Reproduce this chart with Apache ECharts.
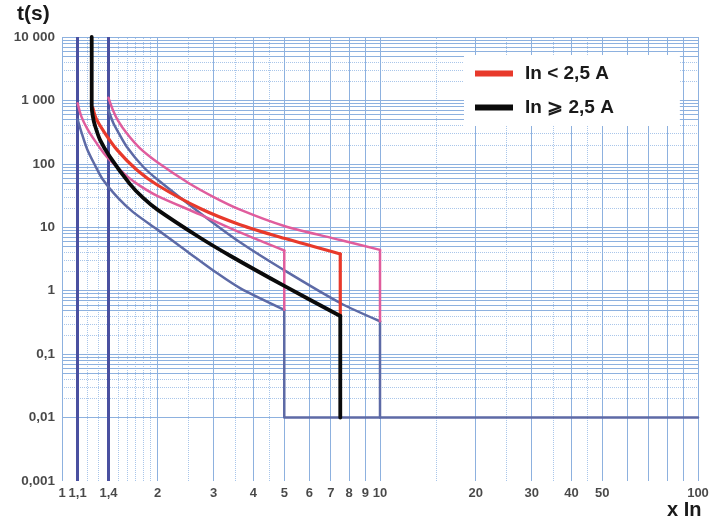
<!DOCTYPE html>
<html><head><meta charset="utf-8">
<script src="https://cdn.jsdelivr.net/npm/echarts@6/dist/echarts.min.js"></script>
<style>html,body{margin:0;padding:0;background:#fff}#c{width:712px;height:523px}</style>
</head><body><div id="c"></div>
<script>
// ---- tick labels ----
const xTickValues = [1, 1.12, 1.4, 2, 3, 4, 5, 6, 7, 8, 9, 10, 20, 30, 40, 50, 100];
const xTickLabels = ['1', '1,1', '1,4', '2', '3', '4', '5', '6', '7', '8', '9', '10', '20', '30', '40', '50', '100'];
const yTickValues = [0.001, 0.01, 0.1, 1, 10, 100, 1000, 10000];
const yTickLabels = ['0,001', '0,01', '0,1', '1', '10', '100', '1 000', '10 000'];

// ---- grid lines ----
const xGridSolid = [1, 2, 3, 4, 5, 6, 7, 8, 9, 10, 20, 30, 40, 50, 60, 70, 80, 90, 100];
const xGridDotted = [1.2, 1.3, 1.5, 1.6, 1.7, 1.8, 1.9, 2.5, 3.5, 4.5, 15, 25, 35, 45];
const yDecades = [0.001, 0.01, 0.1, 1, 10, 100, 1000];
const yMultSolid = [1, 5, 6, 7, 8, 9];
const yMultDotted = [2, 3, 4];
const yTop = 10000;

// ---- tripping band verticals ----
const bandVerticalX = [1.12, 1.4];

// ---- curves [x In, t(s)] ----
const lowBlue = [[1.12,500],[1.15,320],[1.2,170],[1.27,95],[1.346,56],[1.5,29],[1.67,17.5],[2,9.1],[2.47,4.2],[3.07,1.9],[3.63,1.1],[5,0.5]];
const lowBlueTail = [[5,0.5],[5,0.01],[100,0.01]];
const lowPink = [[1.12,900],[1.15,560],[1.2,360],[1.27,230],[1.35,150],[1.42,112],[1.6,64],[1.76,45],[2,31],[2.71,16],[3.63,8.3],[5,4.3]];
const lowPinkDrop = [[5,4.3],[5,0.5]];
const upBlue = [[1.4,700],[1.45,440],[1.5,320],[1.6,185],[1.8,90],[2,56],[2.71,17],[3.63,5.8],[5,2.1],[7.5,0.64],[10,0.33]];
const upBlueTail = [[10,0.33],[10,0.01]];
const upPink = [[1.4,1100],[1.45,680],[1.5,480],[1.6,300],[1.76,175],[2,105],[2.5,50],[3,30],[3.63,19],[5,10.5],[7.5,6.3],[10,4.4]];
const upPinkDrop = [[10,4.4],[10,0.33]];
const redCurve = [[1.25,760],[1.28,520],[1.35,330],[1.49,166],[1.72,80],[2,46],[2.71,20],[3.63,11],[5,6.7],[7.5,3.8]];
const redDrop = [[7.5,3.8],[7.5,0.4]];
const blackCurve = [[1.24,10000],[1.24,800],[1.25,560],[1.27,400],[1.317,239],[1.415,129],[1.636,48],[1.8,29],[2,18.8],[2.71,6.9],[3.38,3.56],[5,1.19],[7.5,0.4]];
const blackTail = [[7.5,0.4],[7.5,0.01]];

const legendRed = 'In < 2,5 A';
const legendBlack = 'In \u2A7E 2,5 A';

const COL = {blue:'#5d6aa6', band:'#4a50a0', pink:'#e05d9d', red:'#e8392b', black:'#0a0a0a',
  gridSolid:'#8db1df', gridDot:'#a9c6ea', text:'#1a1a1a'};
const FONT = 'Liberation Sans';

const ySolid = [], yDotted = [];
yDecades.forEach(d => {
  yMultSolid.forEach(m => ySolid.push(+(d*m).toPrecision(6)));
  yMultDotted.forEach(m => yDotted.push(+(d*m).toPrecision(6)));
});
ySolid.push(yTop);

function ml(vals, axis) { return vals.map(v => ({[axis]: v})); }

function curve(name, data, color, width, smooth) {
  return {type:'line', name, data, symbol:'none', smooth: smooth ? 0.3 : false,
    lineStyle:{color, width, cap:'round', join:'round'}, itemStyle:{color}, z:5, clip:true, animation:false, silent:true};
}

const chart = echarts.init(document.getElementById('c'), null, {renderer:'canvas'});
chart.setOption({
  animation:false,
  backgroundColor:'#fff',
  grid:{left:62, top:37, width:636, height:444},
  xAxis:{type:'log', logBase:10, min:1, max:100, axisLine:{show:false}, axisTick:{show:false},
    axisLabel:{show:false}, splitLine:{show:false}, minorSplitLine:{show:false}},
  yAxis:{type:'log', logBase:10, min:0.001, max:10000, axisLine:{show:false}, axisTick:{show:false},
    axisLabel:{show:false}, splitLine:{show:false}, minorSplitLine:{show:false}},
  legend:{
    z:20, zlevel:0,
    data:[{name:legendRed, icon:'rect'}, {name:legendBlack, icon:'rect'}],
    orient:'vertical', left:464, top:55, itemWidth:38, itemHeight:6, itemGap:15,
    padding:[9, 66, 9, 11], backgroundColor:'#ffffff', borderWidth:0, selectedMode:false,
    itemStyle:{borderWidth:0}, lineStyle:{width:0},
    textStyle:{fontFamily:FONT, fontWeight:'bold', fontSize:19, color:COL.text, padding:[0,0,0,7]}
  },
  graphic:[
    {type:'text', left:17, top:4, style:{text:'t(s)', font:'bold 21px "Liberation Sans"', fill:COL.text}},
    {type:'text', left:667, top:500, style:{text:'x In', font:'bold 20px "Liberation Sans"', fill:COL.text}}
  ],
  series:[
    {type:'line', data:[], silent:true, z:1,
      markLine:{silent:true, symbol:['none','none'], label:{show:false}, animation:false,
        lineStyle:{type:'dotted', color:COL.gridDot, width:1},
        data: ml(xGridDotted,'xAxis').concat(ml(yDotted,'yAxis'))}},
    {type:'line', data:[], silent:true, z:2,
      markLine:{silent:true, symbol:['none','none'], label:{show:false}, animation:false,
        lineStyle:{type:'solid', color:COL.gridSolid, width:1},
        data: ml(xGridSolid,'xAxis').concat(ml(ySolid,'yAxis'))}},
    {type:'line', data:[], silent:true, z:4,
      markLine:{silent:true, symbol:['none','none'], label:{show:false}, animation:false,
        lineStyle:{type:'solid', color:COL.band, width:3},
        data: ml(bandVerticalX,'xAxis')}},
    curve('lowBlue', lowBlue, COL.blue, 2.5, true),
    curve('lowBlueTail', lowBlueTail, COL.blue, 2.5, false),
    curve('upBlue', upBlue, COL.blue, 2.5, true),
    curve('upBlueTail', upBlueTail, COL.blue, 2.5, false),
    curve('lowPink', lowPink, COL.pink, 2.5, true),
    curve('lowPinkDrop', lowPinkDrop, COL.pink, 2.5, false),
    curve('upPink', upPink, COL.pink, 2.5, true),
    curve('upPinkDrop', upPinkDrop, COL.pink, 2.5, false),
    curve(legendRed, redCurve, COL.red, 3.2, true),
    curve('redDrop', redDrop, COL.red, 3.2, false),
    curve(legendBlack, blackCurve, COL.black, 3.8, true),
    curve('blackTail', blackTail, COL.black, 3.8, false),
    {type:'scatter', name:'xlabels', symbolSize:0, clip:false, silent:true, z:6,
      data: xTickValues.map((v,i) => ({value:[v, 0.001], label:{formatter: xTickLabels[i]}})),
      label:{show:true, position:'bottom', distance:6, fontFamily:FONT, fontWeight:'bold', fontSize:13, color:COL.text}},
    {type:'scatter', name:'ylabels', symbolSize:0, clip:false, silent:true, z:6,
      data: yTickValues.map((v,i) => ({value:[1, v], label:{formatter: yTickLabels[i]}})),
      label:{show:true, position:'left', distance:7, fontFamily:FONT, fontWeight:'bold', fontSize:13.5, color:COL.text}}
  ]
});
</script></body></html>
